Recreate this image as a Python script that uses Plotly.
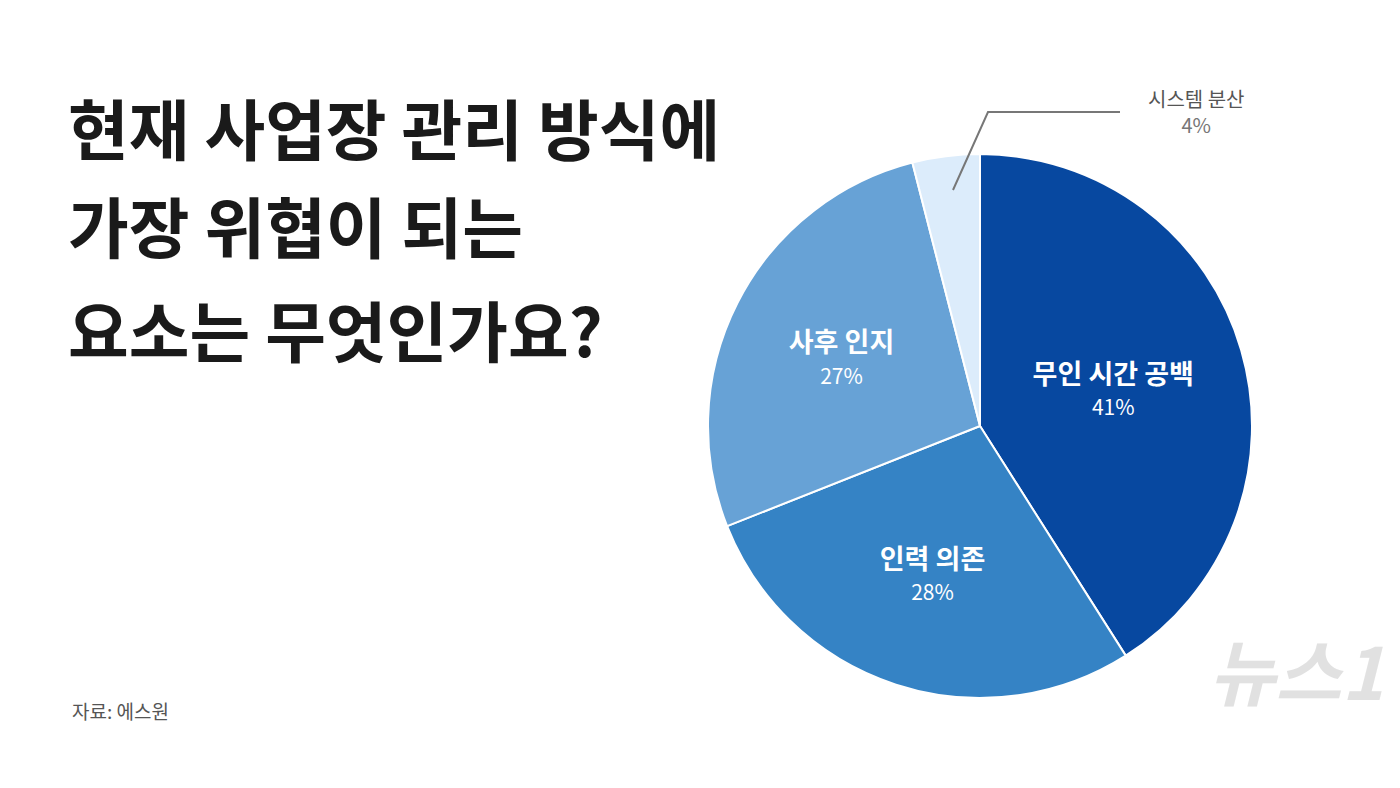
import plotly.graph_objects as go

labels = ["무인 시간 공백", "인력 의존", "사후 인지", "시스템 분산"]
values = [41, 28, 27, 4]
colors = ["#0748a0", "#3583c5", "#67a2d6", "#dcecfb"]
title_lines = ["현재 사업장 관리 방식에", "가장 위협이 되는", "요소는 무엇인가요?"]

W, H = 1400, 788
FONT = "Noto Sans CJK KR"

texts = [
    f"<b><span style='font-size:27px'>{l}</span></b><br><span style='font-size:14px'> </span><br>"
    f"<span style='font-size:21px'>{v}%</span>"
    for l, v in zip(labels, values)
]
texts[-1] = ""

fig = go.Figure(go.Pie(
    labels=labels, values=values, sort=False, direction="clockwise", rotation=0,
    marker=dict(colors=colors, line=dict(color="white", width=2)),
    text=texts, textinfo="text", textposition="inside", insidetextorientation="horizontal",
    textfont=dict(color="white", family=FONT),
    domain=dict(x=[(972 - 272) / W, (972 + 272) / W], y=[1 - 690 / H, 1 - 146 / H]),
    showlegend=False,
))

for i, (line, y) in enumerate(zip(title_lines, [118, 216, 320])):
    fig.add_annotation(text=f"<b>{line}</b>", x=58 / W, y=1 - y / H, xref="paper", yref="paper",
                       xanchor="left", yanchor="middle", showarrow=False,
                       font=dict(size=66, color="#1a1a1a", family=FONT))

fig.add_annotation(text=f"{labels[3]}<br><span style='color:#777'>{values[3]}%</span>",
                   x=1188 / W, y=1 - 104 / H, xref="paper", yref="paper", showarrow=False,
                   xanchor="center", yanchor="middle",
                   font=dict(size=20, color="#555", family=FONT))
fig.add_shape(type="path", path=f"M {945/W} {1-182/H} L {980/W} {1-104/H} L {1112/W} {1-104/H}",
              xref="paper", yref="paper", line=dict(color="#777", width=2))
fig.add_annotation(text="자료: 에스원", x=62 / W, y=1 - 718 / H, xref="paper", yref="paper",
                   xanchor="left", showarrow=False, font=dict(size=19, color="#555", family=FONT))
fig.add_annotation(text="<b><i>뉴스1</i></b>", x=1378 / W, y=1 - 715 / H, xref="paper", yref="paper",
                   xanchor="right", showarrow=False,
                   font=dict(size=72, color="rgba(200,200,200,0.55)", family=FONT))

fig.update_layout(width=W, height=H, margin=dict(l=0, r=0, t=0, b=0),
                  paper_bgcolor="white", plot_bgcolor="white")
fig.write_html("out.html")
